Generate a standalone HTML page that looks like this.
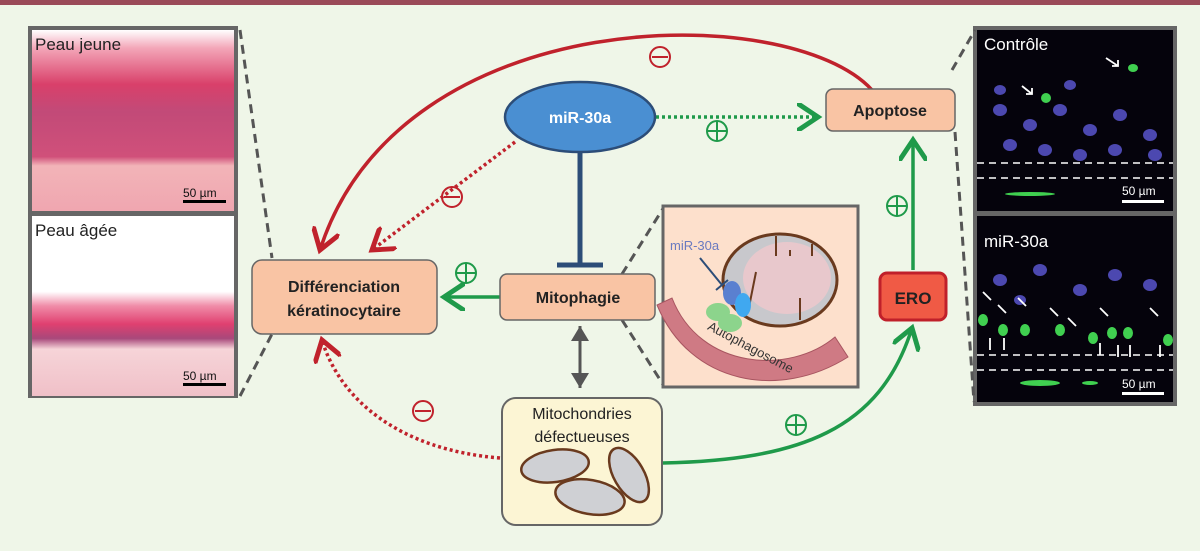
<!DOCTYPE html>
<html><head><meta charset="utf-8"><style>
html,body{margin:0;padding:0;background:#eff6e8;}
svg{display:block;font-family:"Liberation Sans",sans-serif;}
</style></head><body>
<svg width="1200" height="551" viewBox="0 0 1200 551" xmlns="http://www.w3.org/2000/svg">
<defs>
<marker id="ar" markerWidth="8" markerHeight="8" refX="6" refY="4" orient="auto" markerUnits="strokeWidth"><path d="M0,0 L6,4 L0,8" fill="none" stroke="#c0222c" stroke-width="1.4"/></marker>
<marker id="ag" markerWidth="8" markerHeight="8" refX="6" refY="4" orient="auto" markerUnits="strokeWidth"><path d="M0,0 L6,4 L0,8" fill="none" stroke="#1f9a4a" stroke-width="1.4"/></marker>
<marker id="ay" markerWidth="6" markerHeight="6" refX="5" refY="3" orient="auto-start-reverse" markerUnits="strokeWidth"><path d="M0,0 L5,3 L0,6 Z" fill="#555"/></marker>
<linearGradient id="pk1" x1="0" y1="0" x2="0" y2="1"><stop offset="0" stop-color="#fff"/><stop offset="0.1" stop-color="#f3a6b8"/><stop offset="0.3" stop-color="#d9406a"/><stop offset="0.45" stop-color="#c24a78"/><stop offset="0.7" stop-color="#d0507a"/><stop offset="0.75" stop-color="#f2b4b8"/><stop offset="1" stop-color="#f0a6b0"/></linearGradient>
<linearGradient id="pk2" x1="0" y1="0" x2="0" y2="1"><stop offset="0" stop-color="#fff"/><stop offset="0.42" stop-color="#fff"/><stop offset="0.5" stop-color="#f08ca8"/><stop offset="0.6" stop-color="#e04070"/><stop offset="0.68" stop-color="#a8487a"/><stop offset="0.74" stop-color="#f6d4d8"/><stop offset="1" stop-color="#f0c0c8"/></linearGradient>
</defs>
<rect x="0" y="0" width="1200" height="5" fill="#9a4a58"/>
<!-- left panel -->
<rect x="28" y="26" width="210" height="372" fill="#666"/>
<rect x="32" y="30" width="202" height="181" fill="url(#pk1)"/>
<rect x="32" y="216" width="202" height="180" fill="url(#pk2)"/>
<text x="35" y="50" font-size="17" fill="#222">Peau jeune</text>
<text x="35" y="236" font-size="17" fill="#222">Peau âgée</text>
<text x="183" y="197" font-size="12" fill="#111">50 µm</text><rect x="183" y="200" width="43" height="3" fill="#000"/>
<text x="183" y="380" font-size="12" fill="#111">50 µm</text><rect x="183" y="383" width="43" height="3" fill="#000"/>
<!-- right panel -->
<rect x="973" y="26" width="204" height="380" fill="#666"/>
<rect x="977" y="30" width="196" height="181" fill="#05030c"/>
<rect x="977" y="216" width="196" height="186" fill="#05030c"/>
<g fill="#4c48b0">
<ellipse cx="1000" cy="110" rx="7" ry="6"/><ellipse cx="1030" cy="125" rx="7" ry="6"/><ellipse cx="1060" cy="110" rx="7" ry="6"/><ellipse cx="1090" cy="130" rx="7" ry="6"/><ellipse cx="1120" cy="115" rx="7" ry="6"/><ellipse cx="1150" cy="135" rx="7" ry="6"/><ellipse cx="1010" cy="145" rx="7" ry="6"/><ellipse cx="1045" cy="150" rx="7" ry="6"/><ellipse cx="1080" cy="155" rx="7" ry="6"/><ellipse cx="1115" cy="150" rx="7" ry="6"/><ellipse cx="1155" cy="155" rx="7" ry="6"/><ellipse cx="1000" cy="90" rx="6" ry="5"/><ellipse cx="1070" cy="85" rx="6" ry="5"/>
<ellipse cx="1000" cy="280" rx="7" ry="6"/><ellipse cx="1040" cy="270" rx="7" ry="6"/><ellipse cx="1080" cy="290" rx="7" ry="6"/><ellipse cx="1115" cy="275" rx="7" ry="6"/><ellipse cx="1150" cy="285" rx="7" ry="6"/><ellipse cx="1020" cy="300" rx="6" ry="5"/>
</g>
<g fill="#40d050">
<ellipse cx="1046" cy="98" rx="5" ry="5"/><ellipse cx="1133" cy="68" rx="5" ry="4"/>
<ellipse cx="983" cy="320" rx="5" ry="6"/><ellipse cx="1003" cy="330" rx="5" ry="6"/><ellipse cx="1025" cy="330" rx="5" ry="6"/><ellipse cx="1060" cy="330" rx="5" ry="6"/><ellipse cx="1093" cy="338" rx="5" ry="6"/><ellipse cx="1112" cy="333" rx="5" ry="6"/><ellipse cx="1128" cy="333" rx="5" ry="6"/><ellipse cx="1168" cy="340" rx="5" ry="6"/>
<ellipse cx="1040" cy="383" rx="20" ry="3"/><ellipse cx="1090" cy="383" rx="8" ry="2"/><ellipse cx="1030" cy="194" rx="25" ry="2"/>
</g>
<g stroke="#fff" stroke-width="1.5" stroke-dasharray="7,5">
<line x1="977" y1="163" x2="1173" y2="163"/><line x1="977" y1="178" x2="1173" y2="178"/>
<line x1="977" y1="355" x2="1173" y2="355"/><line x1="977" y1="370" x2="1173" y2="370"/>
</g>
<text x="984" y="50" font-size="17" fill="#fff">Contrôle</text>
<text x="984" y="247" font-size="17" fill="#fff">miR-30a</text>
<text x="1122" y="195" font-size="12" fill="#fff">50 µm</text><rect x="1122" y="200" width="42" height="3" fill="#fff"/>
<text x="1122" y="388" font-size="12" fill="#fff">50 µm</text><rect x="1122" y="392" width="42" height="3" fill="#fff"/>
<g stroke="#fff" stroke-width="1.8" fill="none">
<path d="M1106 58 l12 8 M1112 66 h6 v-6"/><path d="M1022 86 l10 8 M1026 94 h6 v-6"/>
<path d="M983 292 l8 8"/><path d="M998 305 l8 8"/><path d="M1018 298 l8 8"/><path d="M1050 308 l8 8"/><path d="M1068 318 l8 8"/><path d="M1100 308 l8 8"/><path d="M1150 308 l8 8"/>
<path d="M990 350 v-12"/><path d="M1004 350 v-12"/><path d="M1100 355 v-12"/><path d="M1118 357 v-12"/><path d="M1130 357 v-12"/><path d="M1160 357 v-12"/>
</g>
<!-- dashed gray connectors -->
<g stroke="#555" stroke-width="3" stroke-dasharray="9,6" fill="none">
<line x1="240" y1="30" x2="272" y2="258"/><line x1="240" y1="396" x2="272" y2="334"/>
<line x1="622" y1="274" x2="664" y2="207"/><line x1="622" y1="320" x2="664" y2="386"/>
<line x1="952" y1="70" x2="975" y2="30"/><line x1="955" y1="132" x2="974" y2="402"/>
</g>
<!-- connectors -->
<path d="M872 90 C 790 0, 400 0, 320 250" stroke="#c0222c" stroke-width="3.5" fill="none" marker-end="url(#ar)"/>
<path d="M515 142 L 372 250" stroke="#c0222c" stroke-width="3.5" stroke-dasharray="3,3" fill="none" marker-end="url(#ar)"/>
<path d="M500 458 C 400 450, 340 400, 322 340" stroke="#c0222c" stroke-width="3.5" stroke-dasharray="3,3" fill="none" marker-end="url(#ar)"/>
<path d="M656 117 L 818 117" stroke="#1f9a4a" stroke-width="3.5" stroke-dasharray="3,3" fill="none" marker-end="url(#ag)"/>
<path d="M500 297 L 444 297" stroke="#1f9a4a" stroke-width="3.5" fill="none" marker-end="url(#ag)"/>
<path d="M663 463 C 800 460, 880 430, 912 328" stroke="#1f9a4a" stroke-width="3.5" fill="none" marker-end="url(#ag)"/>
<path d="M913 270 L 913 140" stroke="#1f9a4a" stroke-width="3.5" fill="none" marker-end="url(#ag)"/>
<path d="M580 152 V 265 M557 265 H603" stroke="#2c4d78" stroke-width="5" fill="none"/>
<path d="M580 326 V 388" stroke="#555" stroke-width="3" fill="none" marker-end="url(#ay)" marker-start="url(#ay)"/>
<!-- signs -->
<g fill="none" stroke-width="2">
<g stroke="#c0222c"><circle cx="660" cy="57" r="10"/><line x1="652" y1="57" x2="668" y2="57"/>
<circle cx="452" cy="197" r="10"/><line x1="444" y1="197" x2="460" y2="197"/>
<circle cx="423" cy="411" r="10"/><line x1="415" y1="411" x2="431" y2="411"/></g>
<g stroke="#1f9a4a"><circle cx="717" cy="131" r="10"/><path d="M707 131h20M717 121v20"/>
<circle cx="466" cy="273" r="10"/><path d="M456 273h20M466 263v20"/>
<circle cx="897" cy="206" r="10"/><path d="M887 206h20M897 196v20"/>
<circle cx="796" cy="425" r="10"/><path d="M786 425h20M796 415v20"/></g>
</g>
<!-- nodes -->
<ellipse cx="580" cy="117" rx="75" ry="35" fill="#4a8fd2" stroke="#2c4d78" stroke-width="2.5"/>
<text x="580" y="123" font-size="16" font-weight="bold" fill="#fff" text-anchor="middle">miR-30a</text>
<rect x="826" y="89" width="129" height="42" rx="7" fill="#f9c4a4" stroke="#666" stroke-width="1.5"/>
<text x="890" y="116" font-size="16" font-weight="bold" fill="#222" text-anchor="middle">Apoptose</text>
<rect x="252" y="260" width="185" height="74" rx="10" fill="#f9c4a4" stroke="#666" stroke-width="1.5"/>
<text x="344" y="292" font-size="16" font-weight="bold" fill="#222" text-anchor="middle">Différenciation</text>
<text x="344" y="316" font-size="16" font-weight="bold" fill="#222" text-anchor="middle">kératinocytaire</text>
<rect x="500" y="274" width="155" height="46" rx="7" fill="#f9c4a4" stroke="#666" stroke-width="1.5"/>
<text x="578" y="303" font-size="16" font-weight="bold" fill="#222" text-anchor="middle">Mitophagie</text>
<rect x="880" y="273" width="66" height="47" rx="7" fill="#f05a45" stroke="#c0202a" stroke-width="3"/>
<text x="913" y="304" font-size="17" font-weight="bold" fill="#222" text-anchor="middle">ERO</text>
<!-- mito inset -->
<rect x="663" y="206" width="195" height="181" fill="#fde0cc" stroke="#666" stroke-width="3"/>
<path d="M672 298 C 700 370, 790 375, 835 337 L 848 357 C 780 400, 690 385, 657 305 Z" fill="#cf7a84" stroke="#a85560"/>
<text x="705" y="336" font-size="13" fill="#333" transform="rotate(28 720 336)">Autophagosome</text>
<ellipse cx="780" cy="280" rx="57" ry="46" fill="#c8c8cc" stroke="#6a3a1e" stroke-width="3"/>
<ellipse cx="787" cy="278" rx="44" ry="36" fill="#e8c8cc"/>
<path d="M776 236 v20 M790 256 v-6 M812 244 v12 M748 312 l8 -40 M800 320 v-22" stroke="#6a3a1e" stroke-width="2"/>
<ellipse cx="718" cy="312" rx="12" ry="9" fill="#8cd48c"/><ellipse cx="730" cy="323" rx="12" ry="9" fill="#8cd48c"/>
<ellipse cx="732" cy="293" rx="9" ry="12" fill="#5a80d0"/><ellipse cx="743" cy="305" rx="8" ry="12" fill="#40a8f0"/>
<text x="670" y="250" font-size="13" fill="#6a7ac0">miR-30a</text>
<path d="M700 258 L 722 285 M716 290 L 728 280" stroke="#2c4d78" stroke-width="2"/>
<!-- defective mito -->
<rect x="502" y="398" width="160" height="127" rx="14" fill="#fcf5d4" stroke="#666" stroke-width="2"/>
<text x="582" y="419" font-size="16" fill="#222" text-anchor="middle">Mitochondries</text>
<text x="582" y="442" font-size="16" fill="#222" text-anchor="middle">défectueuses</text>
<g fill="#cfd0d4" stroke="#6a3a1e" stroke-width="2.5">
<ellipse cx="555" cy="466" rx="34" ry="16" transform="rotate(-8 555 466)"/>
<ellipse cx="590" cy="497" rx="35" ry="17" transform="rotate(10 590 497)"/>
<ellipse cx="629" cy="475" rx="15" ry="30" transform="rotate(-30 629 475)"/>
</g>
</svg>
</body></html>
